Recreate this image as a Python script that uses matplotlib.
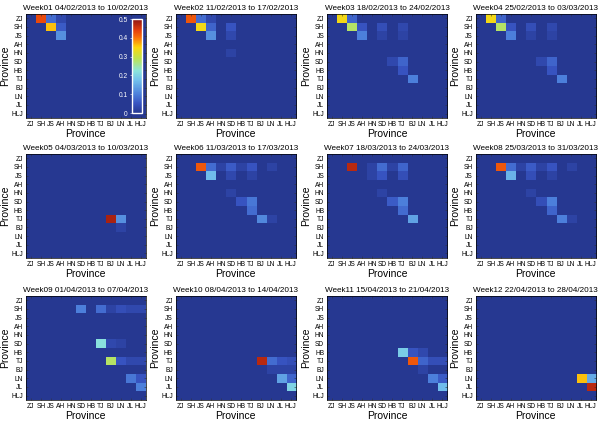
import numpy as np
import matplotlib
matplotlib.use("Agg")
import matplotlib.pyplot as plt
from matplotlib.colors import LinearSegmentedColormap

plt.rcParams['font.family'] = ['Liberation Sans', 'DejaVu Sans']

provinces = ["ZJ", "SH", "JS", "AH", "HN", "SD", "HB", "TJ", "BJ", "LN", "JL", "HLJ"]

titles = [
    "Week01 04/02/2013 to 10/02/2013",
    "Week02 11/02/2013 to 17/02/2013",
    "Week03 18/02/2013 to 24/02/2013",
    "Week04 25/02/2013 to 03/03/2013",
    "Week05 04/03/2013 to 10/03/2013",
    "Week06 11/03/2013 to 17/03/2013",
    "Week07 18/03/2013 to 24/03/2013",
    "Week08 25/03/2013 to 31/03/2013",
    "Week09 01/04/2013 to 07/04/2013",
    "Week10 08/04/2013 to 14/04/2013",
    "Week11 15/04/2013 to 21/04/2013",
    "Week12 22/04/2013 to 28/04/2013",
]

# (from province, to province, value) for each week; everything else is 0
week01 = [("ZJ", "SH", 0.43), ("ZJ", "JS", 0.08), ("ZJ", "AH", 0.03),
          ("SH", "JS", 0.36), ("SH", "AH", 0.06), ("JS", "AH", 0.12)]
week02 = [("ZJ", "SH", 0.42), ("ZJ", "JS", 0.08), ("ZJ", "AH", 0.03),
          ("SH", "JS", 0.34), ("SH", "AH", 0.07), ("SH", "SD", 0.05),
          ("JS", "AH", 0.12), ("JS", "SD", 0.03), ("HN", "SD", 0.02)]
week03 = [("ZJ", "SH", 0.34), ("ZJ", "JS", 0.07), ("SH", "JS", 0.28),
          ("SH", "AH", 0.05), ("SH", "SD", 0.04), ("SH", "TJ", 0.03),
          ("JS", "AH", 0.10), ("JS", "SD", 0.02), ("JS", "TJ", 0.02),
          ("SD", "HB", 0.03), ("SD", "TJ", 0.07), ("HB", "TJ", 0.05),
          ("TJ", "BJ", 0.10)]
week04 = [("ZJ", "SH", 0.34), ("ZJ", "JS", 0.07), ("SH", "JS", 0.28),
          ("SH", "AH", 0.05), ("SH", "SD", 0.04), ("SH", "TJ", 0.03),
          ("JS", "AH", 0.10), ("JS", "SD", 0.02), ("JS", "TJ", 0.02),
          ("SD", "HB", 0.03), ("SD", "TJ", 0.07), ("HB", "TJ", 0.05),
          ("TJ", "BJ", 0.10)]
week05 = [("TJ", "BJ", 0.48), ("TJ", "LN", 0.12), ("BJ", "LN", 0.02)]
week06 = [("SH", "JS", 0.42), ("SH", "AH", 0.08), ("SH", "HN", 0.02),
          ("SH", "SD", 0.06), ("SH", "HB", 0.02), ("SH", "TJ", 0.05),
          ("SH", "LN", 0.02), ("JS", "AH", 0.17), ("JS", "SD", 0.03),
          ("JS", "TJ", 0.02), ("HN", "SD", 0.02), ("SD", "HB", 0.05),
          ("SD", "TJ", 0.09), ("HB", "TJ", 0.08), ("TJ", "BJ", 0.11),
          ("TJ", "LN", 0.02)]
week07 = [("SH", "JS", 0.47), ("SH", "HN", 0.02), ("SH", "SD", 0.08),
          ("SH", "HB", 0.02), ("SH", "TJ", 0.07), ("JS", "HN", 0.02),
          ("JS", "SD", 0.05), ("JS", "TJ", 0.04), ("HN", "SD", 0.02),
          ("SD", "HB", 0.06), ("SD", "TJ", 0.10), ("HB", "TJ", 0.08),
          ("TJ", "BJ", 0.14)]
week08 = [("SH", "JS", 0.42), ("SH", "AH", 0.08), ("SH", "HN", 0.02),
          ("SH", "SD", 0.06), ("SH", "HB", 0.02), ("SH", "TJ", 0.05),
          ("SH", "LN", 0.02), ("JS", "AH", 0.16), ("JS", "SD", 0.04),
          ("JS", "TJ", 0.02), ("HN", "SD", 0.02), ("SD", "HB", 0.04),
          ("SD", "TJ", 0.10), ("HB", "TJ", 0.07), ("TJ", "BJ", 0.10),
          ("TJ", "LN", 0.02)]
week09 = [("SH", "SD", 0.10), ("SH", "TJ", 0.08), ("SH", "BJ", 0.02),
          ("SH", "LN", 0.04), ("SH", "JL", 0.03), ("SH", "HLJ", 0.03),
          ("SD", "TJ", 0.22), ("SD", "BJ", 0.03), ("SD", "LN", 0.02),
          ("TJ", "BJ", 0.28), ("TJ", "LN", 0.05), ("TJ", "JL", 0.03),
          ("TJ", "HLJ", 0.03), ("LN", "JL", 0.09), ("LN", "HLJ", 0.05),
          ("JL", "HLJ", 0.10)]
week10 = [("TJ", "BJ", 0.47), ("TJ", "LN", 0.08), ("TJ", "JL", 0.05),
          ("TJ", "HLJ", 0.04), ("BJ", "LN", 0.02), ("BJ", "JL", 0.02),
          ("BJ", "HLJ", 0.02), ("LN", "JL", 0.14), ("LN", "HLJ", 0.07),
          ("JL", "HLJ", 0.20)]
week11 = [("HB", "TJ", 0.19), ("HB", "BJ", 0.05), ("HB", "LN", 0.03),
          ("TJ", "BJ", 0.42), ("TJ", "LN", 0.07), ("TJ", "JL", 0.04),
          ("TJ", "HLJ", 0.04), ("BJ", "LN", 0.02), ("LN", "JL", 0.10),
          ("LN", "HLJ", 0.06), ("JL", "HLJ", 0.17)]
week12 = [("LN", "JL", 0.36), ("LN", "HLJ", 0.15), ("JL", "HLJ", 0.47)]

weeks = [week01, week02, week03, week04, week05, week06,
         week07, week08, week09, week10, week11, week12]

# washed-out jet, as in the figure
cmap = LinearSegmentedColormap.from_list("flow", [
    (0.00, (0.15, 0.22, 0.57)),
    (0.10, (0.22, 0.33, 0.76)),
    (0.20, (0.30, 0.50, 0.86)),
    (0.35, (0.45, 0.76, 0.93)),
    (0.45, (0.55, 0.90, 0.86)),
    (0.58, (0.74, 0.89, 0.32)),
    (0.70, (0.99, 0.84, 0.05)),
    (0.80, (0.98, 0.45, 0.04)),
    (0.88, (0.90, 0.25, 0.05)),
    (1.00, (0.55, 0.08, 0.08)),
])


def to_matrix(entries):
    m = np.zeros((len(provinces), len(provinces)))
    for src, dst, v in entries:
        m[provinces.index(src), provinces.index(dst)] = v
    return m


fig = plt.figure(figsize=(6, 4.24), dpi=100)

lefts = [0.043, 0.293, 0.545, 0.793]
bottoms = [0.722, 0.392, 0.057]
width, height = 0.200, 0.245

ims = []
for i, (entries, title) in enumerate(zip(weeks, titles)):
    r, c = divmod(i, 4)
    ax = fig.add_axes([lefts[c], bottoms[r], width, height])
    im = ax.imshow(to_matrix(entries), cmap=cmap, vmin=0, vmax=0.5,
                   aspect='auto', interpolation='nearest')
    ims.append(im)
    ax.set_xticks(range(len(provinces)))
    ax.set_yticks(range(len(provinces)))
    ax.set_xticklabels(provinces, fontsize=4.8)
    ax.set_yticklabels(provinces, fontsize=4.8)
    ax.tick_params(direction='in', length=1.5, width=0.4, pad=2,
                   top=True, right=True, color='#333333')
    ax.set_xlabel("Province", fontsize=7.5, labelpad=1)
    ax.set_ylabel("Province", fontsize=7.5, labelpad=1)
    ax.set_title(title, fontsize=5.9, pad=3)
    for s in ax.spines.values():
        s.set_linewidth(0.5)

# colorbar drawn inside the first panel
cax = fig.add_axes([132 / 600, 1 - 113 / 424, 10 / 600, 94 / 424])
cb = fig.colorbar(ims[0], cax=cax, ticks=[0, 0.1, 0.2, 0.3, 0.4, 0.5])
cb.ax.yaxis.set_ticks_position('left')
cb.ax.tick_params(labelsize=4.8, length=1.5, width=0.4, colors='white',
                  labelcolor='white', pad=1.5)
cb.ax.set_yticklabels(["0", "0.1", "0.2", "0.3", "0.4", "0.5"])
cb.outline.set_edgecolor('white')
cb.outline.set_linewidth(1.0)

fig.savefig("out.png", dpi=100)
